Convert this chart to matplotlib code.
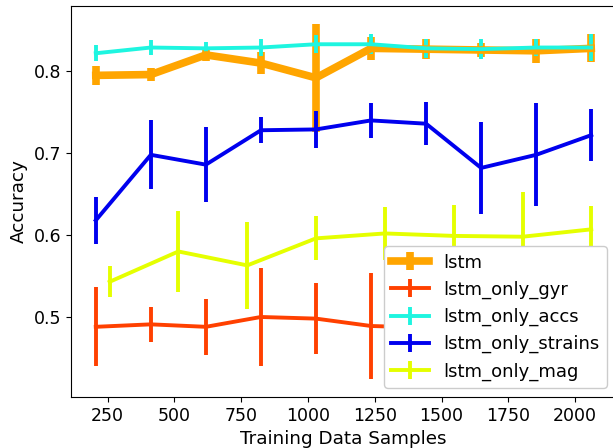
import numpy as np
import matplotlib
matplotlib.use('Agg')
import matplotlib.pyplot as plt

# training sample sizes
samples = [206, 412, 618, 824, 1030, 1236, 1442, 1648, 1854, 2060]
samples_mag = [258, 515, 773, 1030, 1288, 1545, 1803, 2060]

lstm = [0.795, 0.796, 0.820, 0.810, 0.792, 0.828, 0.827, 0.826, 0.825, 0.828]
lstm_err = [0.012, 0.008, 0.007, 0.013, 0.066, 0.014, 0.012, 0.009, 0.015, 0.017]

gyr = [0.488, 0.491, 0.488, 0.500, 0.498, 0.489, 0.487, 0.490, 0.488, 0.492]
gyr_err = [0.048, 0.021, 0.034, 0.060, 0.043, 0.065, 0.040, 0.035, 0.045, 0.040]

accs = [0.822, 0.829, 0.828, 0.829, 0.833, 0.833, 0.828, 0.827, 0.829, 0.829]
accs_err = [0.010, 0.009, 0.008, 0.010, 0.011, 0.012, 0.012, 0.012, 0.010, 0.016]

strains = [0.618, 0.698, 0.686, 0.728, 0.729, 0.740, 0.736, 0.682, 0.698, 0.722]
strains_err = [0.029, 0.042, 0.046, 0.016, 0.023, 0.021, 0.026, 0.056, 0.063, 0.032]

mag = [0.543, 0.580, 0.563, 0.596, 0.602, 0.599, 0.598, 0.607]
mag_err = [0.019, 0.050, 0.053, 0.027, 0.032, 0.038, 0.054, 0.028]

plt.rcParams['font.size'] = 12.5

fig = plt.figure(figsize=(6.13, 4.48), dpi=100)
ax = fig.add_axes([71/613, 51/448, 545/613, 391/448])

ax.errorbar(samples, lstm, yerr=lstm_err, color='orange', lw=5.5, elinewidth=5.5, label='lstm')
ax.errorbar(samples, gyr, yerr=gyr_err, color='#ff4000', lw=2.8, label='lstm_only_gyr')
ax.errorbar(samples, accs, yerr=accs_err, color='#1ef5e0', lw=2.8, label='lstm_only_accs')
ax.errorbar(samples, strains, yerr=strains_err, color='#0000ee', lw=2.8, label='lstm_only_strains')
ax.errorbar(samples_mag, mag, yerr=mag_err, color='#e5ff00', lw=2.8, label='lstm_only_mag')

ax.set_xlabel('Training Data Samples', fontsize=13.2)
ax.set_ylabel('Accuracy', fontsize=13.2)
ax.set_yticks([0.5, 0.6, 0.7, 0.8])
ax.set_xticks([250, 500, 750, 1000, 1250, 1500, 1750, 2000])
ax.legend(loc='lower right', framealpha=1, fontsize=13, handlelength=2.1)

fig.savefig('out.png', dpi=100)
